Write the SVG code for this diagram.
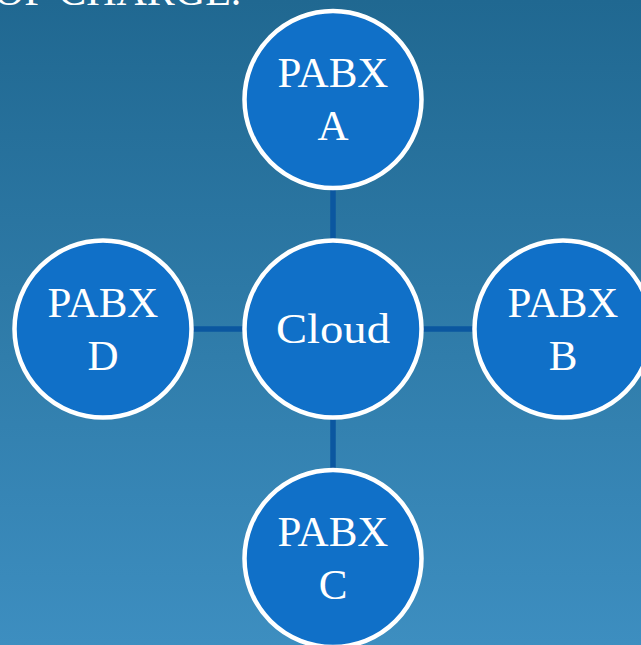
<svg xmlns="http://www.w3.org/2000/svg" width="641" height="645" viewBox="0 0 641 645">
<defs>
<linearGradient id="bg" x1="0" y1="0" x2="0" y2="1">
<stop offset="0" stop-color="#206891"/>
<stop offset="1" stop-color="#3D8EC0"/>
</linearGradient>
<style>
.node circle{fill:#1070C8;stroke:#FFFFFF;stroke-width:4.5}
.node text{fill:#FFFFFF;font-family:"Liberation Serif","DejaVu Serif",serif;font-size:43px;text-anchor:middle}
.conn line{stroke:#0B57A0;stroke-width:5.5}
.title{fill:#FFFFFF;font-family:"Liberation Serif","DejaVu Serif",serif;font-size:42px}
</style>
</defs>
<rect width="641" height="645" fill="url(#bg)"/>
<text class="title" x="-6" y="5">OF CHARGE.</text>
<g id="connectors" class="conn">
<line x1="333" y1="190" x2="333" y2="240"/>
<line x1="333" y1="419" x2="333" y2="469"/>
<line x1="193" y1="329" x2="243" y2="329"/>
<line x1="423" y1="329" x2="473" y2="329"/>
</g>
<g id="cloud" class="node">
<circle cx="333" cy="329" r="88.5"/>
<text x="333" y="343" textLength="114" lengthAdjust="spacingAndGlyphs">Cloud</text>
</g>
<g id="pabx-a" class="node">
<circle cx="333" cy="99.5" r="88.5"/>
<text x="333" y="87">PABX</text>
<text x="333" y="140">A</text>
</g>
<g id="pabx-b" class="node">
<circle cx="563" cy="329" r="88.5"/>
<text x="563" y="317">PABX</text>
<text x="563" y="370">B</text>
</g>
<g id="pabx-c" class="node">
<circle cx="333" cy="558.5" r="88.5"/>
<text x="333" y="546">PABX</text>
<text x="333" y="599">C</text>
</g>
<g id="pabx-d" class="node">
<circle cx="103" cy="329" r="88.5"/>
<text x="103" y="317">PABX</text>
<text x="103" y="370">D</text>
</g>
</svg>
